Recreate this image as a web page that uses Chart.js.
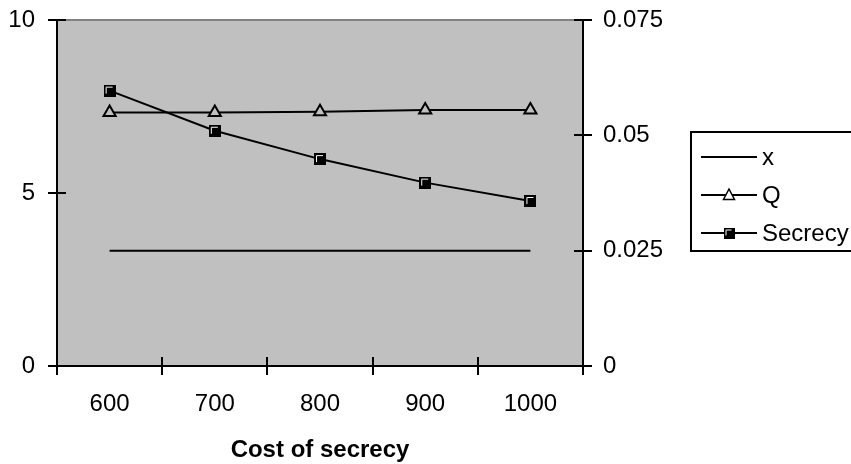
<!DOCTYPE html>
<html>
<head>
<meta charset="utf-8">
<script src="https://cdn.jsdelivr.net/npm/chart.js@4"></script>
<style>
  html, body { margin: 0; padding: 0; background: #fff; }
  #wrap { width: 851px; height: 464px; }
</style>
</head>
<body>
<div id="wrap"><canvas id="c" width="851" height="464"></canvas></div>
<script>
// Categories along the bottom axis
const categories = ['600', '700', '800', '900', '1000'];
// Series values
const xValues = [0.025, 0.025, 0.025, 0.025, 0.025];      // right axis
const qValues = [7.33, 7.33, 7.35, 7.40, 7.40];            // left axis
const secrecyValues = [7.96, 6.80, 5.98, 5.30, 4.77];      // left axis
// Tick labels
const leftTicks = [0, 5, 10];
const rightTicks = [0, 0.025, 0.05, 0.075];

const FONT = "'Liberation Sans', Arial, sans-serif";
const FONT_SIZE = 24;
const PLOT_BG = '#c0c0c0';

// Black square marker with a white inner corner
function squareMarker(size) {
  const c = document.createElement('canvas');
  c.width = size; c.height = size;
  const g = c.getContext('2d');
  g.fillStyle = '#000';
  g.fillRect(0, 0, size, size);
  g.strokeStyle = '#fff';
  g.lineWidth = 1;
  g.beginPath();
  g.moveTo(2.5, size - 3);
  g.lineTo(2.5, 2.5);
  g.lineTo(size - 3, 2.5);
  g.stroke();
  return c;
}
const squareImg = squareMarker(12);
const squareSmall = squareMarker(11);

// Grey plot background and the grey top edge
const plotBackground = {
  id: 'plotBackground',
  beforeDraw(chart) {
    const { ctx, chartArea: a } = chart;
    ctx.save();
    ctx.fillStyle = PLOT_BG;
    ctx.fillRect(a.left, a.top, a.right - a.left, a.bottom - a.top);
    ctx.strokeStyle = '#808080';
    ctx.lineWidth = 2;
    ctx.beginPath();
    ctx.moveTo(a.left, a.top);
    ctx.lineTo(a.right, a.top);
    ctx.stroke();
    ctx.restore();
  }
};

// Tick marks that cross the axis lines
const crossTicks = {
  id: 'crossTicks',
  afterDraw(chart) {
    const { ctx, chartArea: a, scales } = chart;
    const half = 9;
    ctx.save();
    ctx.strokeStyle = '#000';
    ctx.lineWidth = 2;
    ctx.beginPath();
    scales.y.ticks.forEach((t, i) => {
      const py = Math.round(scales.y.getPixelForTick(i));
      ctx.moveTo(a.left - half, py); ctx.lineTo(a.left + half, py);
    });
    scales.y1.ticks.forEach((t, i) => {
      const py = Math.round(scales.y1.getPixelForTick(i));
      ctx.moveTo(a.right - half, py); ctx.lineTo(a.right + half, py);
    });
    const xs = scales.x;
    const n = categories.length;
    for (let i = 0; i <= n; i++) {
      let px;
      if (i === 0) px = a.left;
      else if (i === n) px = a.right;
      else px = (xs.getPixelForValue(i - 1) + xs.getPixelForValue(i)) / 2;
      px = Math.round(px);
      ctx.moveTo(px, a.bottom - half); ctx.lineTo(px, a.bottom + half);
    }
    ctx.stroke();
    ctx.restore();
  }
};

// Boxed legend at the right
const boxLegend = {
  id: 'boxLegend',
  afterDraw(chart) {
    const { ctx } = chart;
    const box = { x: 691, y: 132, w: 170, h: 119 };
    ctx.save();
    ctx.fillStyle = '#fff';
    ctx.fillRect(box.x, box.y, box.w, box.h);
    ctx.strokeStyle = '#000';
    ctx.lineWidth = 2;
    ctx.strokeRect(box.x, box.y, box.w, box.h);
    const rows = [157, 195, 233];
    chart.data.datasets.forEach((ds, i) => {
      const y = rows[i];
      ctx.strokeStyle = '#000';
      ctx.lineWidth = 2;
      ctx.beginPath();
      ctx.moveTo(701, y); ctx.lineTo(757, y);
      ctx.stroke();
      const cx = 729;
      if (ds.pointStyle === 'triangle') {
        ctx.fillStyle = '#fff';
        ctx.lineWidth = 1.5;
        ctx.beginPath();
        ctx.moveTo(cx, y - 6);
        ctx.lineTo(cx + 5.5, y + 4.5);
        ctx.lineTo(cx - 5.5, y + 4.5);
        ctx.closePath();
        ctx.fill();
        ctx.stroke();
      } else if (ds.pointStyle === squareImg) {
        ctx.drawImage(squareSmall, cx - 5.5, y - 5.5);
      }
      ctx.fillStyle = '#000';
      ctx.font = FONT_SIZE + 'px ' + FONT;
      ctx.textBaseline = 'middle';
      ctx.textAlign = 'left';
      ctx.fillText(ds.label, 762, y + 1);
    });
    ctx.restore();
  }
};

// Invisible tick marks keep the label gap without adding top padding
const hiddenTickGrid = len => ({
  display: true, drawOnChartArea: false, drawTicks: true,
  tickLength: len, tickColor: 'rgba(0,0,0,0)', color: 'rgba(0,0,0,0)', offset: true
});

new Chart(document.getElementById('c'), {
  type: 'line',
  data: {
    labels: categories,
    datasets: [
      {
        label: 'x', data: xValues, yAxisID: 'y1',
        borderColor: '#000', borderWidth: 2, pointRadius: 0, pointStyle: false
      },
      {
        label: 'Q', data: qValues, yAxisID: 'y',
        borderColor: '#000', borderWidth: 2,
        pointStyle: 'triangle', pointRadius: 7, pointBorderWidth: 2,
        pointBackgroundColor: PLOT_BG, pointBorderColor: '#000'
      },
      {
        label: 'Secrecy', data: secrecyValues, yAxisID: 'y',
        borderColor: '#000', borderWidth: 2,
        pointStyle: squareImg, pointRadius: 6
      }
    ]
  },
  options: {
    responsive: false,
    animation: false,
    devicePixelRatio: 1,
    layout: { padding: { top: 20, left: 0, right: 0, bottom: 0 } },
    plugins: { legend: { display: false }, tooltip: { enabled: false } },
    elements: { line: { tension: 0 } },
    scales: {
      x: {
        type: 'category',
        offset: true,
        grid: hiddenTickGrid(24),
        border: { display: true, color: '#000', width: 2 },
        ticks: { color: '#000', font: { family: FONT, size: FONT_SIZE }, padding: 0, maxRotation: 0 },
        title: {
          display: true, text: 'Cost of secrecy', color: '#000',
          font: { family: FONT, size: FONT_SIZE, weight: 'bold' }, padding: { top: 0, bottom: -1 }
        },
        afterFit(s) { s.height = 98; }
      },
      y: {
        position: 'left', min: 0, max: 10,
        afterBuildTicks(s) { s.ticks = leftTicks.map(v => ({ value: v })); },
        grid: hiddenTickGrid(22),
        border: { display: true, color: '#000', width: 2 },
        ticks: { color: '#000', font: { family: FONT, size: FONT_SIZE }, padding: 0, callback: v => String(v) },
        afterFit(s) { s.width = 57; }
      },
      y1: {
        position: 'right', min: 0, max: 0.075,
        afterBuildTicks(s) { s.ticks = rightTicks.map(v => ({ value: v })); },
        grid: hiddenTickGrid(20),
        border: { display: true, color: '#000', width: 2 },
        ticks: { color: '#000', font: { family: FONT, size: FONT_SIZE }, padding: 0, callback: v => String(v) },
        afterFit(s) { s.width = 268; }
      }
    }
  },
  plugins: [plotBackground, crossTicks, boxLegend]
});
</script>
</body>
</html>
